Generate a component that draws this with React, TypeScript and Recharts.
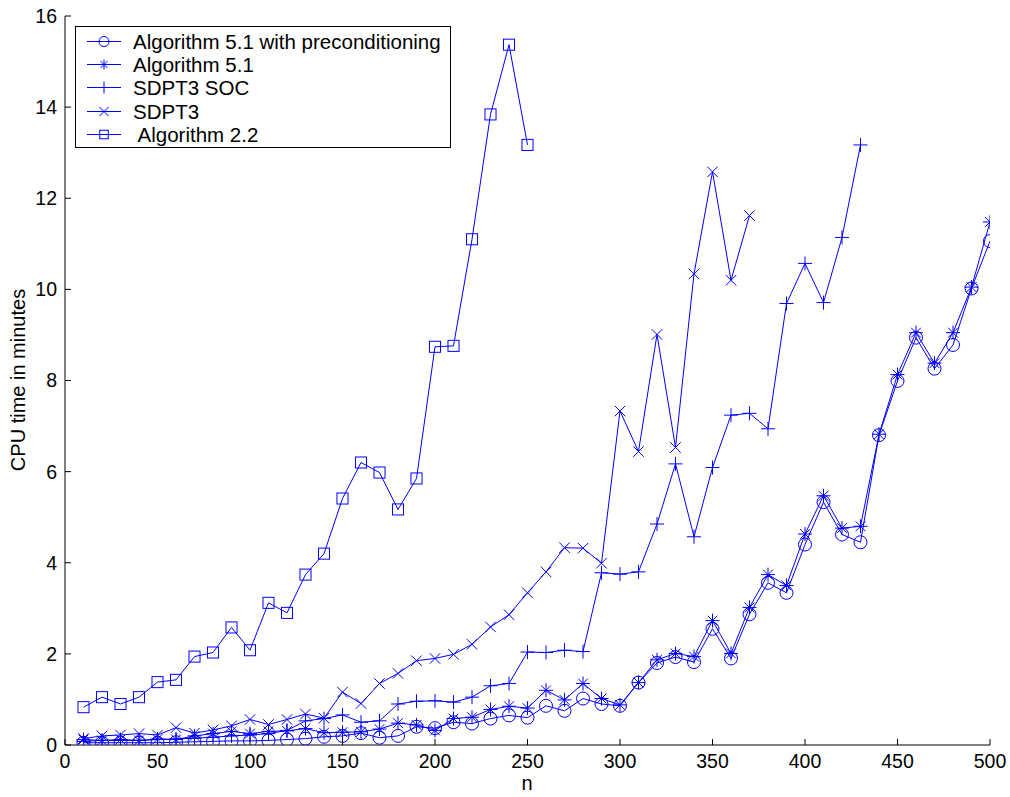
import React from 'react';
import { LineChart, Line, XAxis, YAxis, Legend, Customized } from 'recharts';

// problem size n
const nValues = [
  10, 20, 30, 40, 50, 60, 70, 80, 90, 100,
  110, 120, 130, 140, 150, 160, 170, 180, 190, 200,
  210, 220, 230, 240, 250, 260, 270, 280, 290, 300,
  310, 320, 330, 340, 350, 360, 370, 380, 390, 400,
  410, 420, 430, 440, 450, 460, 470, 480, 490, 500,
];

// CPU time in minutes, one entry per n (shorter series stop early)
const precond = [
  0.05, 0.05, 0.05, 0.05, 0.05, 0.06, 0.07, 0.08, 0.09, 0.09,
  0.1, 0.12, 0.14, 0.18, 0.2, 0.26, 0.16, 0.2, 0.4, 0.37,
  0.5, 0.47, 0.58, 0.65, 0.6, 0.86, 0.75, 1.02, 0.9, 0.86,
  1.37, 1.8, 1.93, 1.82, 2.55, 1.9, 2.87, 3.56, 3.34, 4.4,
  5.33, 4.62, 4.45, 6.8, 7.99, 8.94, 8.26, 8.78, 10.02, 11.06,
];
const alg51 = [
  0.12, 0.1, 0.12, 0.1, 0.13, 0.12, 0.2, 0.25, 0.3, 0.25,
  0.3, 0.31, 0.36, 0.27, 0.28, 0.29, 0.35, 0.48, 0.44, 0.32,
  0.58, 0.61, 0.78, 0.85, 0.81, 1.2, 0.99, 1.35, 1.02, 0.88,
  1.37, 1.87, 2.01, 1.94, 2.73, 2.01, 3.02, 3.74, 3.5, 4.63,
  5.47, 4.76, 4.8, 6.82, 8.13, 9.05, 8.38, 9.05, 10.05, 11.48,
];
const sdpt3Soc = [
  0.08, 0.1, 0.1, 0.1, 0.12, 0.13, 0.15, 0.17, 0.2, 0.22,
  0.25, 0.32, 0.53, 0.58, 0.66, 0.5, 0.53, 0.9, 0.96, 0.97,
  0.94, 1.05, 1.3, 1.35, 2.04, 2.03, 2.08, 2.05, 3.78, 3.75,
  3.8, 4.85, 6.17, 4.57, 6.09, 7.24, 7.28, 6.94, 9.69, 10.57,
  9.71, 11.14, 13.17,
];
const sdpt3 = [
  0.14, 0.2, 0.22, 0.25, 0.22, 0.38, 0.26, 0.33, 0.42, 0.56,
  0.45, 0.56, 0.68, 0.59, 1.16, 0.91, 1.35, 1.57, 1.85, 1.9,
  1.99, 2.21, 2.59, 2.86, 3.34, 3.8, 4.33, 4.32, 3.99, 7.33,
  6.44, 9.01, 6.53, 10.34, 12.58, 10.2, 11.62,
];
const alg22 = [
  0.83, 1.05, 0.9, 1.05, 1.38, 1.43, 1.94, 2.03, 2.58, 2.08,
  3.12, 2.9, 3.74, 4.2, 5.41, 6.2, 5.98, 5.17, 5.85, 8.74,
  8.76, 11.1, 13.84, 15.37, 13.17,
];

const xTicks = [0, 50, 100, 150, 200, 250, 300, 350, 400, 450, 500];
const yTicks = [0, 2, 4, 6, 8, 10, 12, 14, 16];

const BLUE = '#0000ff';
const FONT = 'Arial, "Liberation Sans", Helvetica, sans-serif';

type MarkerType = 'circle' | 'star' | 'plus' | 'cross' | 'square';

const series: { key: string; name: string; marker: MarkerType }[] = [
  { key: 'precond', name: 'Algorithm 5.1 with preconditioning', marker: 'circle' },
  { key: 'alg51', name: 'Algorithm 5.1', marker: 'star' },
  { key: 'soc', name: 'SDPT3 SOC', marker: 'plus' },
  { key: 'sdpt3', name: 'SDPT3', marker: 'cross' },
  { key: 'alg22', name: ' Algorithm 2.2', marker: 'square' },
];

const data = nValues.map((n, i) => ({
  n,
  precond: precond[i],
  alg51: alg51[i],
  soc: sdpt3Soc[i],
  sdpt3: sdpt3[i],
  alg22: alg22[i],
}));

const Marker = ({ type, cx, cy, s }: { type: MarkerType; cx: number; cy: number; s: number }) => {
  const p = { stroke: BLUE, strokeWidth: 1, fill: 'none' };
  if (type === 'circle') return <circle cx={cx} cy={cy} r={s} {...p} />;
  if (type === 'square') return <rect x={cx - s * 0.85} y={cy - s * 0.85} width={s * 1.7} height={s * 1.7} {...p} />;
  if (type === 'plus')
    return (
      <g {...p}>
        <line x1={cx - s} y1={cy} x2={cx + s} y2={cy} />
        <line x1={cx} y1={cy - s} x2={cx} y2={cy + s} />
      </g>
    );
  const d = s * 0.75;
  if (type === 'cross')
    return (
      <g {...p}>
        <line x1={cx - d} y1={cy - d} x2={cx + d} y2={cy + d} />
        <line x1={cx - d} y1={cy + d} x2={cx + d} y2={cy - d} />
      </g>
    );
  // star = plus + cross
  const e = s * 0.7;
  return (
    <g {...p}>
      <line x1={cx - s} y1={cy} x2={cx + s} y2={cy} />
      <line x1={cx} y1={cy - s} x2={cx} y2={cy + s} />
      <line x1={cx - e} y1={cy - e} x2={cx + e} y2={cy + e} />
      <line x1={cx - e} y1={cy + e} x2={cx + e} y2={cy - e} />
    </g>
  );
};

const markerSize: Record<MarkerType, number> = { circle: 6.5, star: 7, plus: 7, cross: 7, square: 6.5 };

const makeDot = (type: MarkerType) => (props: any) => {
  const { cx, cy, value, index } = props;
  if (value == null || cx == null || cy == null || isNaN(cy)) return <g key={`e${index}`} />;
  return (
    <g key={`d${index}`}>
      <Marker type={type} cx={cx} cy={cy} s={markerSize[type]} />
    </g>
  );
};

const legendSize: Record<MarkerType, number> = { circle: 5, star: 5, plus: 6, cross: 6, square: 5 };

const LegendBox = () => (
  <div
    style={{
      width: 376,
      height: 122,
      boxSizing: 'border-box',
      border: '1.5px solid #000',
      background: '#fff',
      paddingTop: 3,
      fontFamily: FONT,
      fontSize: 20.5,
      color: '#000',
    }}
  >
    {series.map((s) => (
      <div key={s.key} style={{ display: 'flex', alignItems: 'center', height: 23.2 }}>
        <svg width={57} height={23} style={{ flex: 'none' }}>
          <line x1={11} y1={11.5} x2={45} y2={11.5} stroke={BLUE} strokeWidth={1} />
          <Marker type={s.marker} cx={28} cy={11.5} s={legendSize[s.marker]} />
        </svg>
        <span style={{ whiteSpace: 'pre', lineHeight: '23px' }}>{s.name}</span>
      </div>
    ))}
  </div>
);

const AxisTitles = () => (
  <g fontFamily={FONT} fontSize={20} fill="#000">
    <text x={527} y={790} textAnchor="middle">n</text>
    <text x={25} y={380} textAnchor="middle" transform="rotate(-90 25 380)">
      CPU time in minutes
    </text>
  </g>
);

const tickStyle = { fill: '#000', fontSize: 19.5, fontFamily: FONT };

const App = () => (
  <div style={{ position: 'absolute', left: 0, top: 0, background: '#fff' }}>
    <LineChart width={1010} height={797} data={data} margin={{ top: 16, right: 20, bottom: 2, left: 20 }}>
      <XAxis
        dataKey="n"
        type="number"
        domain={[0, 500]}
        ticks={xTicks}
        stroke="#000"
        tick={tickStyle}
        tickSize={-6}
        tickMargin={15}
        height={50}
        allowDataOverflow
      />
      <XAxis
        xAxisId="top"
        orientation="top"
        dataKey="n"
        type="number"
        domain={[0, 500]}
        ticks={xTicks}
        stroke="#000"
        tickFormatter={() => ''}
        tickSize={-6}
        height={0}
        allowDataOverflow
      />
      <YAxis
        type="number"
        domain={[0, 16]}
        ticks={yTicks}
        stroke="#000"
        tick={tickStyle}
        tickSize={-6}
        tickMargin={14}
        width={45}
        allowDataOverflow
      />
      <YAxis
        yAxisId="right"
        orientation="right"
        type="number"
        domain={[0, 16]}
        ticks={yTicks}
        stroke="#000"
        tickFormatter={() => ''}
        tickSize={-6}
        width={0}
        allowDataOverflow
      />
      {series.map((s) => (
        <Line
          key={s.key}
          dataKey={s.key}
          name={s.name}
          stroke={BLUE}
          strokeWidth={1}
          dot={makeDot(s.marker)}
          activeDot={false}
          isAnimationActive={false}
          connectNulls={false}
        />
      ))}
      <Legend
        layout="horizontal"
        verticalAlign="middle"
        align="center"
        content={() => <LegendBox />}
        wrapperStyle={{ left: 75, top: 26, width: 376, height: 122 }}
      />
      <Customized component={AxisTitles} />
    </LineChart>
  </div>
);

export default App;
